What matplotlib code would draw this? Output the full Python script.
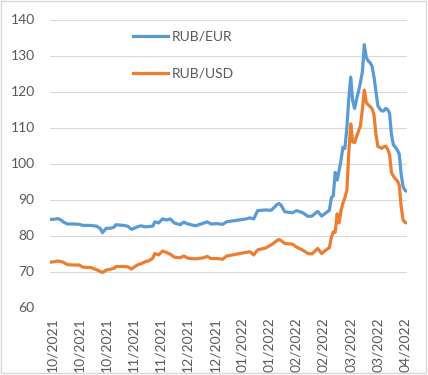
import numpy as np
import pandas as pd
import matplotlib
matplotlib.use("Agg")
import matplotlib.pyplot as plt
import matplotlib.dates as mdates
from matplotlib.patches import Rectangle

# ---------------- data ----------------
START = pd.Timestamp("2021-10-01")

# days since 2021-10-01
days = [-1, 1, 3, 5, 6, 8, 11, 14, 16, 20, 23, 25, 26, 28, 30, 32, 33, 37, 39, 41,
        44, 46, 48, 50, 52, 53, 55, 57, 59, 61, 63, 66, 68, 70, 74, 78, 80, 82, 85, 88,
        90, 95, 100, 102, 104, 106, 110, 113, 116, 117, 118, 120, 124, 126, 129, 132, 134, 137, 139, 141,
        143, 144, 145, 146, 147, 148, 149, 150, 151, 152, 153, 154, 155, 156, 157, 158, 159, 160, 161, 162,
        163, 164, 165, 166, 167, 168, 169, 170, 171, 172, 173, 174, 175, 176, 177, 178, 179, 180, 181, 182, 183]

rub_eur = [84.5, 84.5, 84.7, 84.2, 83.7, 83.2, 83.2, 83.1, 82.8, 82.8, 82.6, 81.9, 80.8, 82.0, 82.0, 82.3, 83.0, 82.8, 82.6, 81.7,
           82.4, 82.7, 82.4, 82.5, 82.6, 83.8, 83.5, 84.6, 84.3, 84.6, 83.5, 83.0, 83.7, 83.2, 82.7, 83.4, 83.8, 83.2, 83.3, 83.1,
           83.8, 84.2, 84.6, 84.9, 84.6, 86.9, 87.1, 87.0, 88.6, 88.9, 88.5, 86.6, 86.3, 86.9, 86.4, 85.3, 85.4, 86.7, 85.4, 86.2,
           87.0, 90.5, 91.0, 97.5, 95.4, 98.0, 101.0, 104.5, 104.2, 110.0, 118.0, 124.0, 117.5, 115.3, 117.8, 120.0, 122.5, 125.5, 133.0, 129.5,
           128.5, 128.0, 127.0, 124.0, 120.0, 116.0, 115.2, 114.6, 114.6, 115.3, 115.0, 114.0, 108.0, 105.2, 104.5, 103.8, 102.6, 97.0, 93.5, 92.5, 92.3]

rub_usd = [72.6, 72.7, 72.9, 72.7, 72.5, 71.9, 71.8, 71.8, 71.2, 71.1, 70.5, 70.0, 69.7, 70.4, 70.6, 70.9, 71.4, 71.4, 71.3, 70.7,
           71.8, 72.2, 72.7, 73.0, 73.7, 75.0, 74.6, 75.7, 75.3, 74.8, 74.0, 73.8, 74.3, 73.7, 73.5, 73.8, 74.2, 73.6, 73.6, 73.4,
           74.3, 74.8, 75.3, 75.5, 74.6, 76.0, 76.5, 77.4, 78.6, 78.9, 78.6, 77.8, 77.6, 76.8, 76.0, 75.0, 74.9, 76.4, 75.0, 75.9,
           76.6, 79.5, 81.0, 80.9, 86.0, 83.5, 87.0, 89.0, 90.5, 92.5, 103.0, 111.0, 106.0, 105.8, 107.5, 109.0, 110.5, 115.0, 120.4, 117.0,
           116.3, 115.8, 115.2, 113.5, 108.0, 104.7, 104.5, 104.2, 104.6, 104.8, 104.0, 102.5, 97.5, 96.5, 95.7, 95.2, 94.0, 88.0, 84.3, 83.6, 83.5]

series_names = ["RUB/EUR", "RUB/USD"]
series_colors = ["#5B9BD5", "#ED7D31"]

y_ticks = list(range(60, 141, 10))

# ---------------- plot ----------------
plt.rcParams["font.family"] = ["Lato", "DejaVu Sans"]
TEXT = "#595959"

dates = START + pd.to_timedelta(days, unit="D")

fig = plt.figure(figsize=(4.28, 3.75), dpi=100)
ax = fig.add_axes([50 / 428, 1 - 307.5 / 375, 357 / 428, 288 / 375])

for vals, name, col in zip([rub_eur, rub_usd], series_names, series_colors):
    ax.plot(dates, vals, color=col, lw=2.3, label=name, solid_joinstyle="round")

ax.set_ylim(60, 140)
ax.set_yticks(y_ticks)
ax.set_xlim(dates[0], dates[-1])

tick_dates = pd.date_range("2021-10-01", "2022-04-01", freq="14D")
ax.set_xticks(tick_dates)
ax.xaxis.set_major_formatter(mdates.DateFormatter("%m/%Y"))

ax.grid(axis="y", color="#D9D9D9", lw=0.8)
ax.set_axisbelow(True)
for s in ax.spines.values():
    s.set_visible(False)
ax.tick_params(axis="both", length=0, labelsize=10, colors=TEXT)
ax.tick_params(axis="y", pad=11)
ax.tick_params(axis="x", pad=7, labelrotation=90)

leg = ax.legend(loc="upper left", bbox_to_anchor=(0.232, 0.962), frameon=False,
                handlelength=2.5, handletextpad=0.3, labelspacing=1.8,
                borderpad=0, borderaxespad=0, fontsize=10)
for t in leg.get_texts():
    t.set_color(TEXT)

# chart border
fig.patches.append(Rectangle((1 / 428, 2.5 / 375), 425 / 428, 371.5 / 375,
                             transform=fig.transFigure, fill=False,
                             edgecolor="#D9D9D9", lw=1))

fig.savefig("out.png", dpi=100)
